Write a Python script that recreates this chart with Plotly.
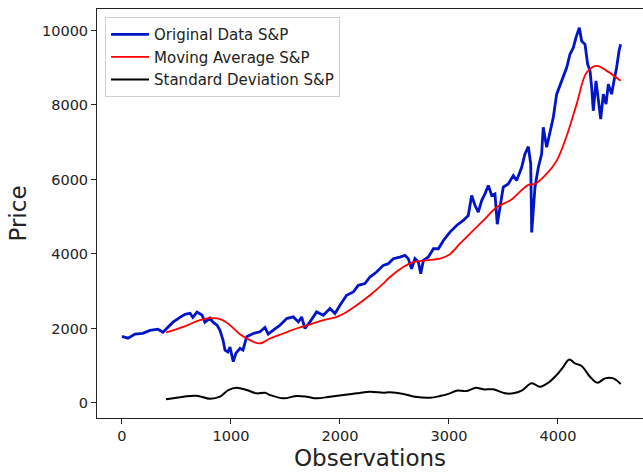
import plotly.graph_objects as go

# S&P index: observation number vs. closing price (sampled along the series)
obs_price = [0, 55, 120, 190, 257, 330, 376, 422, 468, 532, 578, 624, 651, 688, 734, 761,
             807, 835, 872, 899, 927, 945, 972, 991, 1021, 1046, 1083, 1110, 1144, 1205,
             1266, 1312, 1342, 1388, 1450, 1511, 1572, 1618, 1648, 1679, 1725, 1786, 1847,
             1908, 1954, 2000, 2061, 2122, 2168, 2229, 2275, 2336, 2397, 2443, 2489, 2550,
             2596, 2627, 2657, 2688, 2719, 2741, 2765, 2811, 2857, 2903, 2949, 3009, 3070,
             3131, 3177, 3208, 3239, 3269, 3300, 3330, 3361, 3392, 3422, 3443, 3468, 3498,
             3544, 3590, 3621, 3667, 3697, 3728, 3750, 3759, 3789, 3820, 3850, 3865, 3896,
             3927, 3957, 3988, 4034, 4080, 4110, 4141, 4165, 4196, 4217, 4248, 4272, 4294,
             4309, 4324, 4349, 4370, 4392, 4416, 4441, 4462, 4492, 4514, 4538, 4560, 4575]
price = [1790, 1740, 1850, 1870, 1950, 1980, 1900, 2030, 2170, 2300, 2380, 2410, 2300, 2440,
         2360, 2170, 2280, 2170, 2090, 1950, 1690, 1420, 1370, 1500, 1110, 1340, 1470, 1420,
         1777, 1866, 1910, 2026, 1850, 1954, 2088, 2267, 2311, 2177, 2311, 2000, 2177, 2445,
         2356, 2535, 2400, 2624, 2892, 2980, 3159, 3205, 3382, 3516, 3695, 3740, 3874, 3918,
         3963, 3874, 3600, 3874, 3784, 3472, 3829, 3918, 4141, 4141, 4364, 4587, 4766, 4900,
         5033, 5569, 5301, 5122, 5435, 5614, 5837, 5569, 5614, 4800, 5301, 5793, 5882, 6104,
         5971, 6329, 6685, 6881, 6417, 4580, 5793, 6329, 6685, 7400, 6864, 7309, 7667, 8291,
         8648, 9005, 9362, 9540, 9808, 10076, 9719, 9629, 9094, 8916, 8470, 7845, 8648, 8201,
         7622, 8291, 8023, 8559, 8291, 8648, 9005, 9451, 9630]

# Rolling mean of the price
obs_ma = [404, 563, 716, 807, 914, 991, 1083, 1174, 1266, 1358, 1480, 1603, 1725, 1847,
          1970, 2061, 2153, 2275, 2397, 2459, 2581, 2673, 2795, 2917, 2994, 3101, 3223,
          3346, 3437, 3560, 3728, 3789, 3896, 3988, 4080, 4171, 4263, 4355, 4447, 4575]
moving_avg = [1893, 2043, 2222, 2276, 2240, 2088, 1847, 1687, 1598, 1732, 1866, 2000, 2107,
              2222, 2311, 2445, 2624, 2892, 3205, 3382, 3650, 3784, 3829, 3874, 3963, 4276,
              4632, 4989, 5257, 5435, 5855, 5882, 6150, 6506, 7175, 8023, 8870, 9049, 8916,
              8650]

# Rolling standard deviation of the price
obs_std = [404, 563, 685, 807, 899, 976, 1052, 1144, 1236, 1312, 1358, 1480, 1603, 1694,
           1786, 1908, 2030, 2153, 2275, 2397, 2459, 2581, 2688, 2826, 2917, 3009, 3070,
           3162, 3248, 3315, 3407, 3514, 3590, 3667, 3758, 3835, 3911, 3988, 4049, 4104,
           4156, 4217, 4294, 4361, 4431, 4508, 4575]
std_dev = [99, 169, 196, 115, 169, 348, 410, 348, 259, 276, 214, 125, 187, 169, 125, 169,
           214, 259, 303, 276, 286, 241, 169, 142, 187, 259, 330, 321, 410, 366, 366, 259,
           259, 330, 527, 437, 544, 750, 972, 1170, 1063, 991, 705, 544, 660, 660, 509]

y_ticks = [0, 2000, 4000, 6000, 8000, 10000]
x_ticks = [0, 1000, 2000, 3000, 4000]

fig = go.Figure()
fig.add_trace(go.Scatter(x=obs_price, y=price, mode="lines", name="Original Data S&P",
                         line=dict(color="#0015c8", width=2.8)))
fig.add_trace(go.Scatter(x=obs_ma, y=moving_avg, mode="lines", name="Moving Average S&P",
                         line=dict(color="#ff0000", width=1.8, shape="spline")))
fig.add_trace(go.Scatter(x=obs_std, y=std_dev, mode="lines", name="Standard Deviation S&P",
                         line=dict(color="#000000", width=2, shape="spline")))

font_family = "DejaVu Sans, sans-serif"
fig.update_layout(
    width=643, height=475,
    margin=dict(l=97, r=0, t=9, b=57),
    plot_bgcolor="white", paper_bgcolor="white",
    font=dict(family=font_family, color="#222222", size=14),
    showlegend=True,
    legend=dict(x=0.0147, y=0.98, xanchor="left", yanchor="top",
                bgcolor="rgba(255,255,255,0.9)", bordercolor="#d0d0d0", borderwidth=1,
                font=dict(size=15, family=font_family), tracegroupgap=0,
                itemwidth=38),
)
fig.update_xaxes(
    range=[-229, 4780], tickvals=x_ticks, ticktext=[str(v) for v in x_ticks],
    showgrid=False, zeroline=False, showline=True, linecolor="#222222", linewidth=1,
    mirror=True, ticks="outside", ticklen=5, tickcolor="#222222",
    tickfont=dict(size=14.5),
    title=dict(text="Observations", font=dict(size=23), standoff=6),
)
fig.update_yaxes(
    range=[-403, 10577], tickvals=y_ticks, ticktext=[str(v) for v in y_ticks],
    showgrid=False, zeroline=False, showline=True, linecolor="#222222", linewidth=1,
    mirror=False, ticks="outside", ticklen=5, tickcolor="#222222",
    tickfont=dict(size=14.5),
    title=dict(text="Price", font=dict(size=23), standoff=8),
)

fig.write_html("out.html")
